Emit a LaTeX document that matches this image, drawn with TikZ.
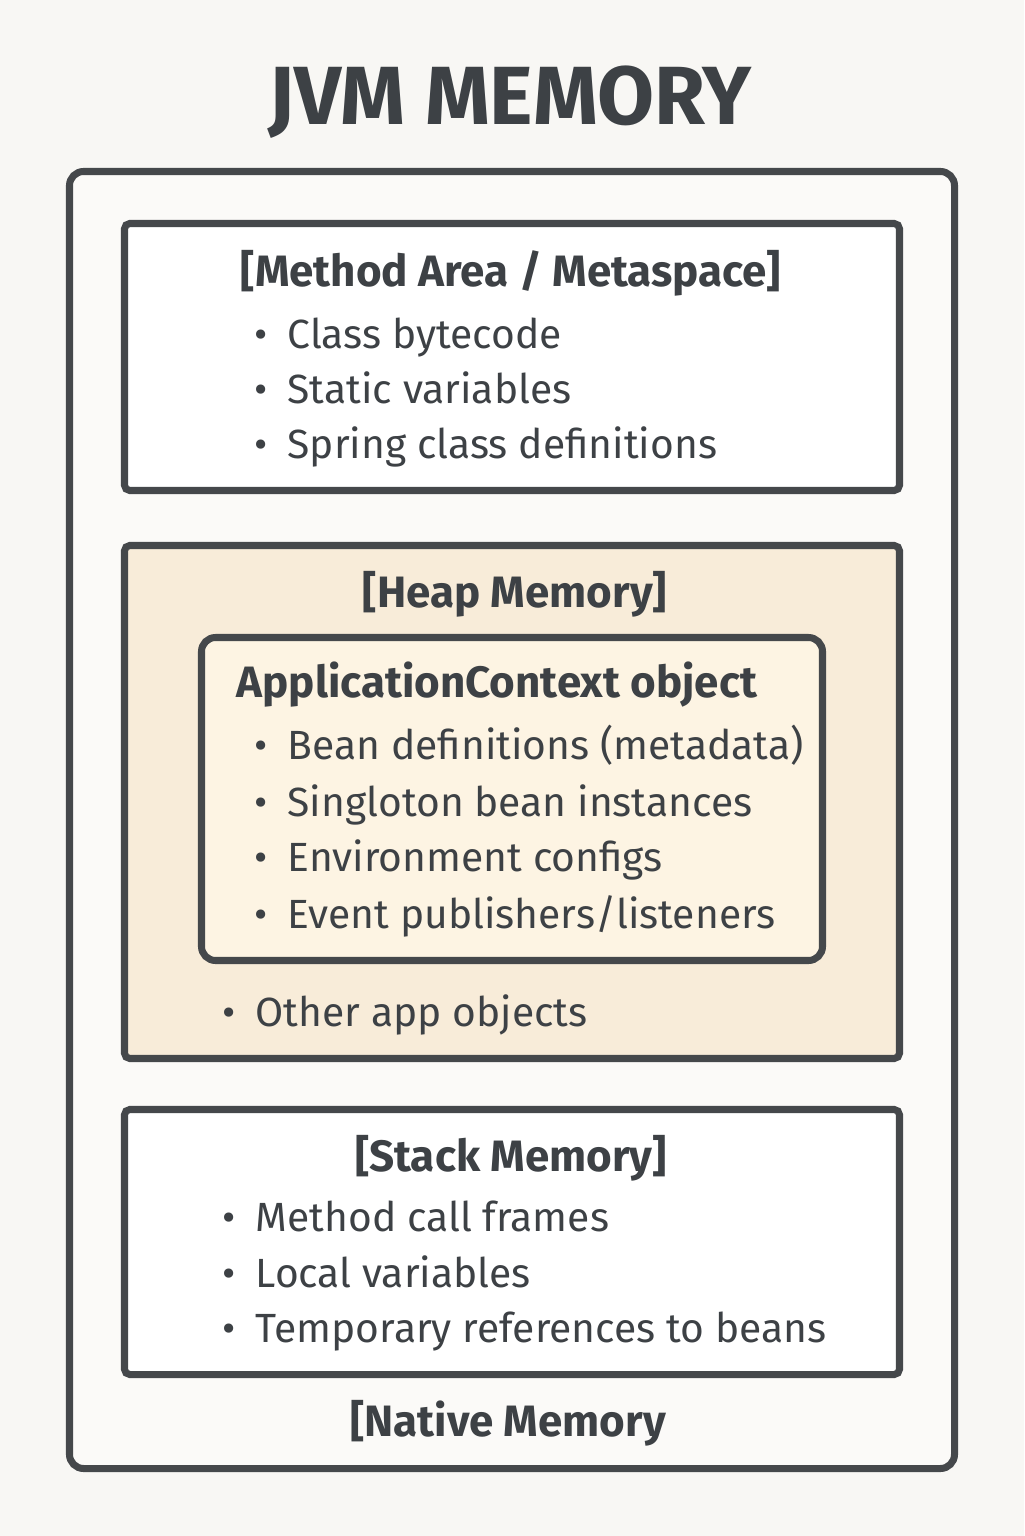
\documentclass[tikz,border=0pt]{standalone}
\usepackage{fontspec}
\setmainfont{Fira Sans}
\definecolor{pagebg}{HTML}{F8F7F4}
\definecolor{linegray}{HTML}{45484B}
\definecolor{textgray}{HTML}{3D4145}
\definecolor{heapfill}{HTML}{F8ECD9}
\definecolor{ctxfill}{HTML}{FDF4E3}
\newcommand{\bitem}[1]{\makebox[0.33cm][l]{\textbullet}#1}
\tikzset{
  membox/.style={draw=linegray,line width=2pt,rounded corners=1.5pt,inner sep=0pt},
  heading/.style={font=\bfseries\fontsize{12.5}{14}\selectfont,text=textgray,anchor=base,inner sep=0pt},
  entry/.style={font=\fontsize{11.6}{14}\selectfont,text=textgray,anchor=base west,inner sep=0pt}
}
\begin{document}
\begin{tikzpicture}
  \useasboundingbox (0,0) rectangle (10.24,-15.36);
  \fill[pagebg] (0,0) rectangle (10.24,-15.36);

  % Title
  \node[font=\bfseries\fontsize{23.5}{28}\selectfont,text=textgray,anchor=base] (title) at (5.10,-1.25) {JVM MEMORY};

  % Outer JVM box
  \node[membox,rounded corners=4pt,fill=pagebg!60!white,minimum width=8.85cm,minimum height=12.97cm] (jvm) at (5.12,-8.20) {};

  % Method area
  \node[membox,fill=white,minimum width=7.75cm,minimum height=2.67cm] (method) at (5.12,-3.57) {};
  \node[heading] (methodhead) at (5.11,-2.87) {[Method Area / Metaspace]};
  \node[entry] (m1) at (2.54,-3.48) {\bitem{Class bytecode}};
  \node[entry] (m2) at (2.54,-4.03) {\bitem{Static variables}};
  \node[entry] (m3) at (2.54,-4.58) {\bitem{Spring class definitions}};

  % Heap
  \node[membox,fill=heapfill,minimum width=7.75cm,minimum height=5.13cm] (heap) at (5.12,-8.02) {};
  \node[heading] (heaphead) at (5.15,-6.07) {[Heap Memory]};
  \node[membox,rounded corners=4pt,fill=ctxfill,minimum width=6.21cm,minimum height=3.23cm] (ctx) at (5.12,-7.99) {};
  \node[heading,anchor=base west] (ctxhead) at (2.36,-6.97) {ApplicationContext object};
  \node[entry] (c1) at (2.54,-7.59) {\bitem{Bean definitions (metadata)}};
  \node[entry] (c2) at (2.54,-8.16) {\bitem{Singloton bean instances}};
  \node[entry] (c3) at (2.54,-8.71) {\bitem{Environment configs}};
  \node[entry] (c4) at (2.54,-9.28) {\bitem{Event publishers/listeners}};
  \node[entry] (h1) at (2.22,-10.26) {\bitem{Other app objects}};

  % Stack
  \node[membox,fill=white,minimum width=7.75cm,minimum height=2.65cm] (stack) at (5.12,-12.42) {};
  \node[heading] (stackhead) at (5.11,-11.71) {[Stack Memory]};
  \node[entry] (s1) at (2.22,-12.31) {\bitem{Method call frames}};
  \node[entry] (s2) at (2.22,-12.87) {\bitem{Local variables}};
  \node[entry] (s3) at (2.22,-13.42) {\bitem{Temporary references to beans}};

  % Native
  \node[heading] (nativehead) at (5.08,-14.36) {[Native Memory};
\end{tikzpicture}
\end{document}
